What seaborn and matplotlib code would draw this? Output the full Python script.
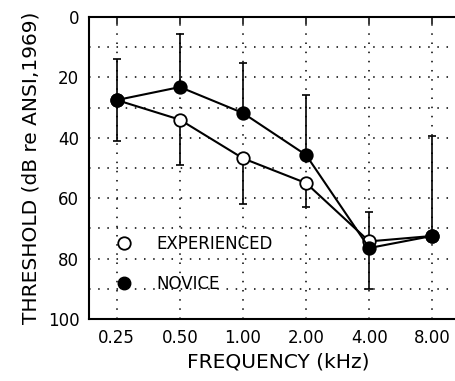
import matplotlib
matplotlib.use("Agg")
import matplotlib.pyplot as plt
from matplotlib.lines import Line2D
import seaborn as sns
import numpy as np
import pandas as pd

# Audiometric thresholds by frequency
freq_labels = ["0.25", "0.50", "1.00", "2.00", "4.00", "8.00"]
experienced = [27.5, 34.0, 46.8, 55.0, 74.3, 72.5]
novice = [27.5, 23.2, 31.8, 45.7, 76.5, 72.5]
# one-sided spreads: novice bars drawn upward, experienced bars drawn downward
novice_err_up = [13.5, 17.5, 16.7, 19.8, 12.0, 33.0]
experienced_err_down = [13.5, 15.0, 15.0, 8.0, 15.8, 0.0]

sns.set_style("white")
plt.rcParams["font.family"] = ["DejaVu Sans"]
plt.rcParams["text.color"] = "black"
plt.rcParams["axes.labelcolor"] = "black"

W, H = 455, 381
fig = plt.figure(figsize=(W / 100, H / 100), dpi=100)
ax = fig.add_axes([89 / W, 1 - 319 / H, (467 - 89) / W, 302 / H])

pos = np.arange(len(freq_labels))
df = pd.DataFrame({"pos": pos, "exp": experienced, "nov": novice})

# error bars first so markers sit on top of them
ax.errorbar(pos, experienced, yerr=[np.zeros(len(pos)), experienced_err_down],
            fmt="none", ecolor="black", elinewidth=1.2, capsize=3, capthick=1.2, zorder=2)
ax.errorbar(pos, novice, yerr=[novice_err_up, np.zeros(len(pos))],
            fmt="none", ecolor="black", elinewidth=1.2, capsize=3, capthick=1.2, zorder=2)

sns.lineplot(data=df, x="pos", y="exp", ax=ax, color="black", lw=1.5,
             marker="o", markersize=9, markerfacecolor="white",
             markeredgecolor="black", markeredgewidth=1.3, zorder=3)
sns.lineplot(data=df, x="pos", y="nov", ax=ax, color="black", lw=1.5,
             marker="o", markersize=9, markerfacecolor="black",
             markeredgecolor="black", markeredgewidth=1.3, zorder=4)

ax.set_xlim(-0.44, 5.55)
ax.set_ylim(100, 0)
ax.set_xticks(pos)
ax.set_xticklabels(freq_labels)
ax.set_yticks(np.arange(0, 101, 20))
ax.set_yticks(np.arange(10, 100, 20), minor=True)

dots = (0, (1, 5))
ax.grid(True, which="both", axis="y", linestyle=dots, color="black", lw=1.1)
ax.grid(True, which="major", axis="x", linestyle=dots, color="black", lw=1.1)

for s in ax.spines.values():
    s.set_color("black")
    s.set_linewidth(1.5)

ax.tick_params(axis="both", which="major", direction="in", length=5, width=1.1,
               labelsize=12, colors="black", pad=7, top=True)
ax.tick_params(axis="y", which="minor", direction="in", length=0)

ax.set_xlabel("FREQUENCY (kHz)", fontsize=14.5, labelpad=4)
ax.set_ylabel("THRESHOLD (dB re ANSI,1969)", fontsize=14.5, labelpad=5)

handles = [
    Line2D([], [], ls="none", marker="o", markersize=9, markerfacecolor="white",
           markeredgecolor="black", markeredgewidth=1.3, label="EXPERIENCED"),
    Line2D([], [], ls="none", marker="o", markersize=9, markerfacecolor="black",
           markeredgecolor="black", label="NOVICE"),
]
ax.legend(handles=handles, loc="upper left", bbox_to_anchor=(0.052, 0.30),
          frameon=False, fontsize=12, labelspacing=1.3, handletextpad=1.45,
          handlelength=1.0, borderaxespad=0)

fig.savefig("out.png", dpi=100, facecolor="white")
